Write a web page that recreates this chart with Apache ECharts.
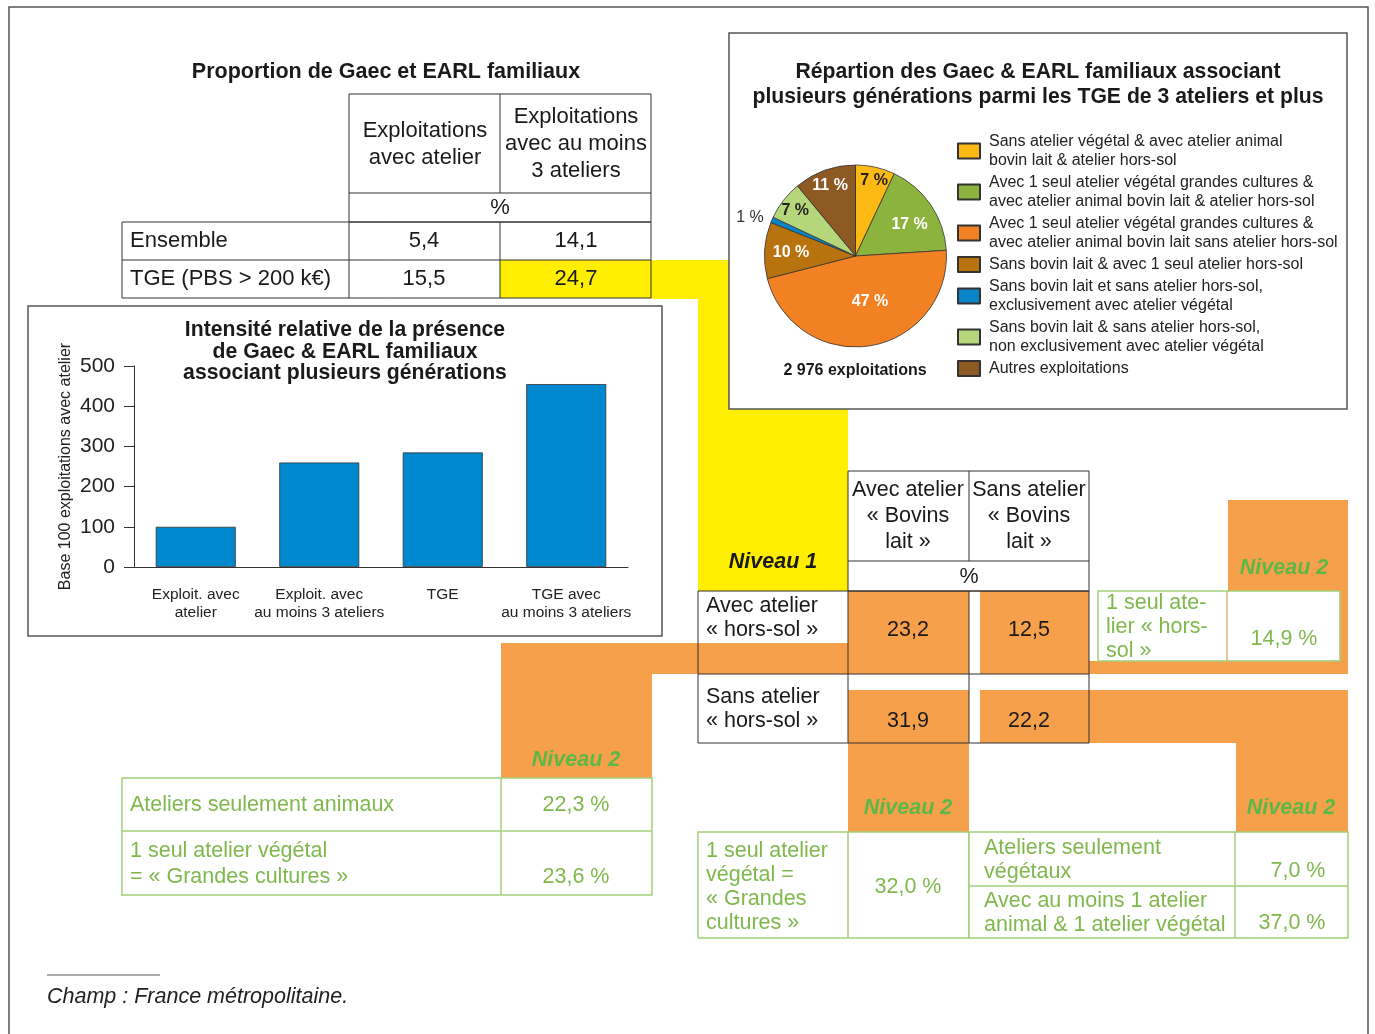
<!DOCTYPE html>
<html>
<head>
<meta charset="utf-8">
<script src="https://cdn.jsdelivr.net/npm/echarts@6.0.0/dist/echarts.min.js"></script>
<style>
  html, body { margin: 0; padding: 0; background: #fff; }
  #main { width: 1375px; height: 1034px; }
</style>
</head>
<body>
<div id="main"></div>
<script>
// ---- données ----
const barCategories = ['Exploit. avec\natelier', 'Exploit. avec\nau moins 3 ateliers', 'TGE', 'TGE avec\nau moins 3 ateliers'];
const barValues = [100, 260, 285, 455];

const pieNames = [
  'Sans atelier végétal & avec atelier animal\nbovin lait & atelier hors-sol',
  'Avec 1 seul atelier végétal grandes cultures &\navec atelier animal bovin lait & atelier hors-sol',
  'Avec 1 seul atelier végétal grandes cultures &\navec atelier animal bovin lait sans atelier hors-sol',
  'Sans bovin lait & avec 1 seul atelier hors-sol',
  'Sans bovin lait et sans atelier hors-sol,\nexclusivement avec atelier végétal',
  'Sans bovin lait & sans atelier hors-sol,\nnon exclusivement avec atelier végétal',
  'Autres exploitations'
];
const pieValues = [7, 17, 47, 10, 1, 7, 11];
const pieColors = ['#FDB913', '#8DB33F', '#F28123', '#B8730F', '#0A85C8', '#B5D67A', '#8D5A24'];
const pieLabelColors = ['#222', '#fff', '#fff', '#fff', '#333', '#222', '#fff'];
const pieTotal = '2 976 exploitations';

const topTableHeaders = ['Exploitations\navec atelier', 'Exploitations\navec au moins\n3 ateliers'];
const topTableRows = ['Ensemble', 'TGE (PBS > 200 k€)'];
const topTableValues = [['5,4', '14,1'], ['15,5', '24,7']];

const n1Headers = ['Avec atelier\n« Bovins\nlait »', 'Sans atelier\n« Bovins\nlait »'];
const n1Rows = ['Avec atelier\n« hors-sol »', 'Sans atelier\n« hors-sol »'];
const n1Values = [['23,2', '12,5'], ['31,9', '22,2']];

const n2Left = [['Ateliers seulement animaux', '22,3 %'], ['1 seul atelier végétal\n= « Grandes cultures »', '23,6 %']];
const n2TopRight = ['1 seul ate-\nlier « hors-\nsol »', '14,9 %'];
const n2Mid = ['1 seul atelier\nvégétal =\n« Grandes\ncultures »', '32,0 %'];
const n2Right = [['Ateliers seulement\nvégétaux', '7,0 %'], ['Avec au moins 1 atelier\nanimal & 1 atelier végétal', '37,0 %']];

// ---- mise en page ----
const FONT = '"Liberation Sans", Arial, sans-serif';
const BLACK = '#1a1a1a';
const GREEN_TXT = '#7fb84c';
const GREEN_NIV = '#5cb846';
const GREEN_LINE = '#a3d07a';
const ORANGE = '#F6A04B';
const YELLOW = '#FFEE00';
const FRAME = '#555';

const g = [];
function rect(x, y, w, h, fill, stroke, lw, z) {
  g.push({ type: 'rect', silent: true, z: z || 0,
    shape: { x: x, y: y, width: w, height: h },
    style: { fill: fill || 'none', stroke: stroke || 'none', lineWidth: lw || 1 } });
}
function poly(points, fill, z) {
  g.push({ type: 'polygon', silent: true, z: z || 0, shape: { points: points }, style: { fill: fill } });
}
function line(x1, y1, x2, y2, stroke, lw, z) {
  g.push({ type: 'line', silent: true, z: z || 5,
    shape: { x1: x1, y1: y1, x2: x2, y2: y2 }, style: { stroke: stroke, lineWidth: lw || 1 } });
}
function text(str, x, y, o) {
  o = o || {};
  g.push({ type: 'text', silent: true, z: o.z || 10, x: x, y: y,
    style: {
      text: str, fill: o.color || BLACK,
      fontSize: o.size || 21.5, fontFamily: FONT,
      fontWeight: o.weight || 'normal', fontStyle: o.style || 'normal',
      lineHeight: o.lh || 24,
      align: o.align || 'left', verticalAlign: 'middle',
      textAlign: o.align || 'left', textVerticalAlign: 'middle'
    } });
}

// cadre général
rect(9, 7, 1359, 1040, null, FRAME, 1.5, 0);

// zones colorées (le jaune contourne l'encadré du camembert)
poly([[651, 260], [729, 260], [729, 409], [848, 409], [848, 591], [698, 591], [698, 299], [651, 299]], YELLOW, 1);
rect(500, 260, 151, 38, YELLOW, null, 1, 1);
poly([[501, 643], [848, 643], [848, 674], [652, 674], [652, 778], [501, 778]], ORANGE, 1);
rect(848, 591, 121, 83, ORANGE, null, 1, 1);
rect(980, 591, 109, 83, ORANGE, null, 1, 1);
rect(1089, 661, 259, 13, ORANGE, null, 1, 1);
rect(1228, 500, 120, 174, ORANGE, null, 1, 1);
rect(848, 690, 121, 142, ORANGE, null, 1, 1);
rect(980, 690, 368, 53, ORANGE, null, 1, 1);
rect(1236, 743, 112, 89, ORANGE, null, 1, 1);

// encadrés
rect(28, 306, 634, 330, null, FRAME, 1.5, 2);
rect(729, 33, 618, 376, null, FRAME, 1.5, 2);

// tableau du haut
text('Proportion de Gaec et EARL familiaux', 386, 72, { size: 21.5, weight: 'bold', align: 'center' });
rect(349, 94, 302, 128, null, '#333', 1, 5);
line(500, 94, 500, 193, '#333');
line(349, 193, 651, 193, '#333');
rect(122, 222, 529, 76, null, '#333', 1, 5);
line(122, 260, 651, 260, '#333');
line(349, 222, 349, 298, '#333');
line(500, 222, 500, 298, '#333');
text(topTableHeaders[0], 425, 144.5, { align: 'center', lh: 27, size: 22 });
text(topTableHeaders[1], 576, 144, { align: 'center', lh: 27, size: 22 });
text('%', 500, 208, { align: 'center', size: 22 });
topTableRows.forEach(function (r, i) {
  const y = 241 + i * 38;
  text(r, 130, y, { size: 22 });
  text(topTableValues[i][0], 424, y, { align: 'center', size: 22 });
  text(topTableValues[i][1], 576, y, { align: 'center', size: 22 });
});

// titre du graphique en barres
text('Intensité relative de la présence\nde Gaec & EARL familiaux\nassociant plusieurs générations', 345, 352,
  { size: 21.2, weight: 'bold', align: 'center', lh: 21.5 });

// titre camembert
text('Répartion des Gaec & EARL familiaux associant\nplusieurs générations parmi les TGE de 3 ateliers et plus', 1038, 85,
  { size: 21.2, weight: 'bold', align: 'center', lh: 25 });
text(pieTotal, 855, 371, { size: 16, weight: 'bold', align: 'center' });

// Niveau 1
text('Niveau 1', 773, 562, { size: 21.5, weight: 'bold', style: 'italic', align: 'center' });
rect(848, 471, 241, 120, null, '#333', 1, 5);
line(969, 471, 969, 561, '#333');
line(848, 561, 1089, 561, '#333');
rect(698, 591, 391, 152, null, '#333', 1, 5);
line(698, 674, 1089, 674, '#333');
line(848, 591, 848, 743, '#333');
line(969, 591, 969, 743, '#333');
text(n1Headers[0], 908, 516, { align: 'center', lh: 26 });
text(n1Headers[1], 1029, 516, { align: 'center', lh: 26 });
text('%', 969, 577, { align: 'center' });
n1Rows.forEach(function (r, i) {
  const yc = i === 0 ? 618 : 709;
  const yv = i === 0 ? 630 : 721;
  text(r, 706, yc, { lh: 24 });
  text(n1Values[i][0], 908, yv, { align: 'center' });
  text(n1Values[i][1], 1029, yv, { align: 'center' });
});

// Niveau 2 - étiquettes
const niv = { size: 21.5, weight: 'bold', style: 'italic', align: 'center', color: GREEN_NIV };
text('Niveau 2', 1284, 568, niv);
text('Niveau 2', 576, 760, niv);
text('Niveau 2', 908, 808, niv);
text('Niveau 2', 1291, 808, niv);

// Niveau 2 - haut droite
rect(1098, 591, 242, 70, '#fff', GREEN_LINE, 1.5, 4);
line(1227, 591, 1227, 661, '#d9a24a', 1.2);
text(n2TopRight[0], 1106, 627, { color: GREEN_TXT, lh: 24 });
text(n2TopRight[1], 1284, 639, { color: GREEN_TXT, align: 'center' });

// Niveau 2 - bas gauche
rect(122, 778, 530, 117, '#fff', GREEN_LINE, 1.5, 4);
line(122, 831, 652, 831, GREEN_LINE, 1.5);
line(501, 778, 501, 895, GREEN_LINE, 1.5);
text(n2Left[0][0], 130, 805, { color: GREEN_TXT });
text(n2Left[0][1], 576, 805, { color: GREEN_TXT, align: 'center' });
text(n2Left[1][0], 130, 864, { color: GREEN_TXT, lh: 26 });
text(n2Left[1][1], 576, 877, { color: GREEN_TXT, align: 'center' });

// Niveau 2 - bas milieu
rect(698, 832, 271, 106, '#fff', GREEN_LINE, 1.5, 4);
line(848, 832, 848, 938, GREEN_LINE, 1.5);
text(n2Mid[0], 706, 887, { color: GREEN_TXT, lh: 24 });
text(n2Mid[1], 908, 887, { color: GREEN_TXT, align: 'center' });

// Niveau 2 - bas droite
rect(969, 832, 379, 106, '#fff', GREEN_LINE, 1.5, 4);
line(969, 886, 1348, 886, GREEN_LINE, 1.5);
line(1235, 832, 1235, 938, GREEN_LINE, 1.5);
text(n2Right[0][0], 984, 860, { color: GREEN_TXT, lh: 24 });
text(n2Right[0][1], 1298, 871, { color: GREEN_TXT, align: 'center' });
text(n2Right[1][0], 984, 913, { color: GREEN_TXT, lh: 24 });
text(n2Right[1][1], 1292, 923, { color: GREEN_TXT, align: 'center' });

// note
line(47, 975, 160, 975, '#555', 1);
text('Champ : France métropolitaine.', 47, 997, { size: 21.5, style: 'italic', color: '#222' });

// décalages des étiquettes du camembert
const pieLabelOffsets = [[8, -28], [14, -4], [7, -2], [-16, 0], [-61, -19], [-22, -16], [-9, -25]];

const myChart = echarts.init(document.getElementById('main'));
const option = {
  animation: false,
  textStyle: { fontFamily: FONT },
  graphic: { elements: g },
  grid: { left: 134, right: 747, top: 366, bottom: 467 },
  xAxis: {
    type: 'category',
    z: 6,
    data: barCategories,
    axisLine: { lineStyle: { color: '#333', width: 1 } },
    axisTick: { length: 11, lineStyle: { color: '#333' } },
    axisLabel: { fontSize: 15.5, color: '#222', lineHeight: 18, margin: 19, interval: 0 }
  },
  yAxis: {
    type: 'value',
    z: 6,
    min: 0, max: 500, interval: 100,
    name: 'Base 100 exploitations avec atelier',
    nameLocation: 'middle', nameGap: 60,
    nameTextStyle: { fontSize: 16, color: '#222' },
    axisLine: { show: true, lineStyle: { color: '#333', width: 1 } },
    axisTick: { show: true, length: 10, lineStyle: { color: '#333' } },
    axisLabel: { fontSize: 21, color: '#222', margin: 19 },
    splitLine: { show: false }
  },
  legend: {
    data: pieNames,
    orient: 'vertical',
    left: 957, top: 132,
    padding: 0,
    itemWidth: 22, itemHeight: 15, itemGap: 3,
    icon: 'rect',
    selectedMode: false,
    textStyle: { fontSize: 16, lineHeight: 19, color: '#222', padding: [0, 0, 0, 4] }
  },
  series: [
    {
      type: 'bar',
      data: barValues,
      barWidth: 80,
      itemStyle: { color: '#0088CE', borderColor: '#333', borderWidth: 0.8 },
      emphasis: { disabled: true }
    },
    {
      type: 'pie',
      center: [855.5, 256],
      radius: 91,
      startAngle: 90,
      clockwise: true,
      avoidLabelOverlap: false,
      emphasis: { disabled: true },
      labelLine: { show: false },
      itemStyle: { borderColor: '#333', borderWidth: 0.8 },
      data: pieNames.map(function (n, i) {
        return {
          name: n, value: pieValues[i],
          itemStyle: { color: pieColors[i] },
          label: {
            show: true, position: 'inside',
            formatter: '{c} %',
            fontSize: 16,
            fontWeight: i === 4 ? 'normal' : 'bold',
            color: pieLabelColors[i],
            offset: pieLabelOffsets[i]
          }
        };
      })
    }
  ]
};
option && myChart.setOption(option);
</script>
</body>
</html>
